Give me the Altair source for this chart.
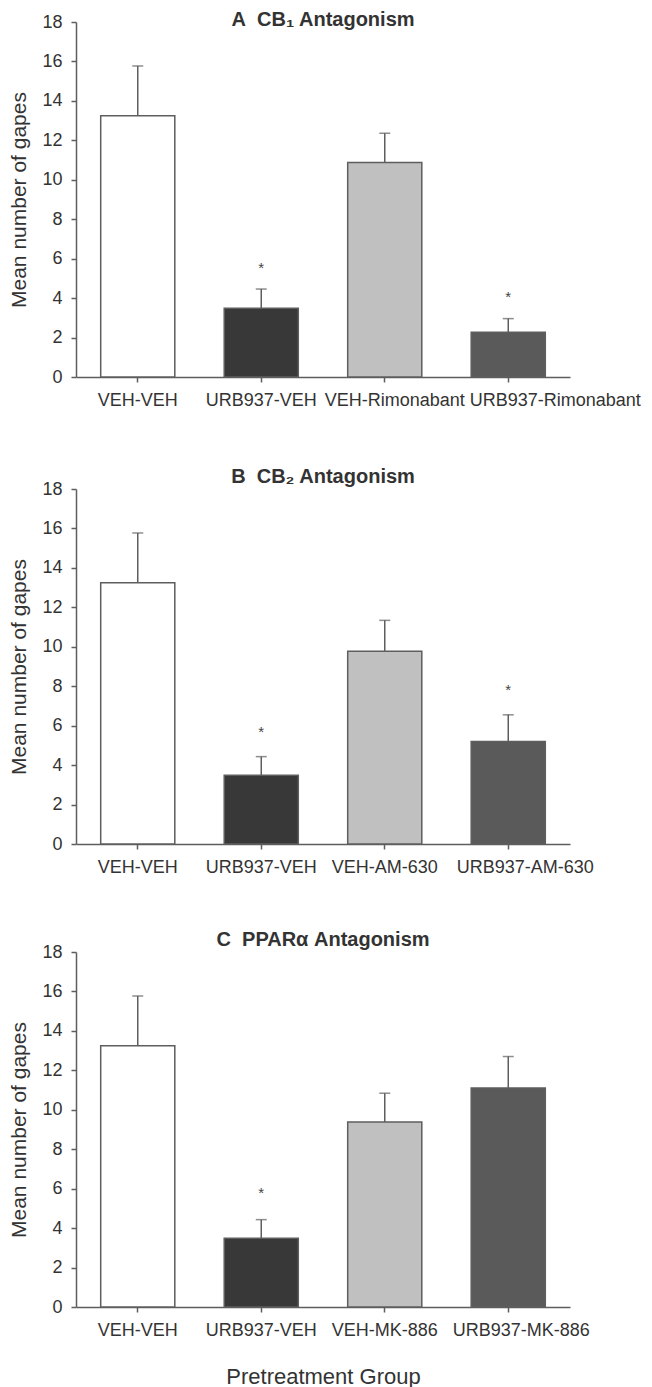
import altair as alt
import pandas as pd

# ---------------- data ----------------
groups_a = ["VEH-VEH", "URB937-VEH", "VEH-Rimonabant", "URB937-Rimonabant"]
means_a = [13.25, 3.48, 10.87, 2.27]
upper_a = [15.77, 4.46, 12.36, 2.96]
stars_a = [None, 5.66, None, 4.2]

groups_b = ["VEH-VEH", "URB937-VEH", "VEH-AM-630", "URB937-AM-630"]
means_b = [13.25, 3.48, 9.77, 5.2]
upper_b = [15.77, 4.43, 11.34, 6.55]
stars_b = [None, 5.83, None, 7.95]

groups_c = ["VEH-VEH", "URB937-VEH", "VEH-MK-886", "URB937-MK-886"]
means_c = [13.25, 3.48, 9.38, 11.1]
upper_c = [15.77, 4.43, 10.84, 12.7]
stars_c = [None, 5.95, None, None]

titles = ["A\u00a0\u00a0CB\u2081 Antagonism", "B\u00a0\u00a0CB\u2082 Antagonism",
          "C\u00a0\u00a0PPAR\u03b1 Antagonism"]
y_ticks = [0, 2, 4, 6, 8, 10, 12, 14, 16, 18]
y_title = "Mean number of gapes"
x_title = "Pretreatment Group"

# ---------------- styles ----------------
FILLS = ["#ffffff", "#383838", "#c0c0c0", "#5a5a5a"]
STROKE = "#5e5e5e"
TEXT = "#333333"
# horizontal nudges of crowded x labels (px)
label_nudge = [
    {"VEH-Rimonabant": 10, "URB937-Rimonabant": 47},
    {"URB937-AM-630": 17},
    {"URB937-MK-886": 13},
]
title_offsets = [-17, -7, -7]

W, H = 494, 355


def panel(groups, means, upper, stars, title, nudge, toff, show_xtitle):
    df = pd.DataFrame({"group": groups, "mean": means, "upper": upper})
    sdf = pd.DataFrame({"group": [g for g, s in zip(groups, stars) if s is not None],
                        "star": [s for s in stars if s is not None]})

    conds = [{"test": f"datum.value == '{k}'", "value": v} for k, v in nudge.items()]
    label_offset = {"condition": conds, "value": 0}

    x_axis = alt.Axis(
        title=x_title if show_xtitle else None,
        labelAngle=0, labelOverlap=False, labelFontSize=18, labelPadding=9,
        tickSize=5, labelOffset=label_offset, titleFontSize=22,
        titleFontWeight="normal", titlePadding=27,
    )
    xscale = alt.Scale(domain=groups, paddingInner=0.4, paddingOuter=0.2)
    y_axis = alt.Axis(values=y_ticks, title=y_title, titleFontSize=21,
                      titleFontWeight="normal", labelFontSize=18, tickSize=5,
                      labelPadding=9, titlePadding=12, grid=False,
                      labelOverlap=False)
    yscale = alt.Scale(domain=[0, 18], nice=False)

    def X():
        return alt.X("group:N", sort=groups, scale=xscale, axis=x_axis)

    def Y(field):
        return alt.Y(field, scale=yscale, axis=y_axis, title=y_title)

    bars = alt.Chart(df).mark_bar(stroke=STROKE, strokeWidth=1.5).encode(
        x=X(),
        y=Y("mean:Q"),
        color=alt.Color("group:N", scale=alt.Scale(domain=groups, range=FILLS), legend=None),
    )
    err = alt.Chart(df).mark_rule(color=STROKE, strokeWidth=1.5).encode(
        x=X(),
        y=Y("mean:Q"),
        y2=alt.Y2("upper:Q"),
    )
    cap = alt.Chart(df).mark_tick(color=STROKE, thickness=1.5, size=11).encode(
        x=X(),
        y=Y("upper:Q"),
    )
    star = alt.Chart(sdf).mark_text(text="*", fontSize=15, color="#444444",
                                    baseline="middle", dy=3).encode(
        x=X(),
        y=Y("star:Q"),
    )
    return alt.layer(bars, err, cap, star).properties(
        width=W, height=H,
        title=alt.TitleParams(title, fontSize=20, fontWeight="bold", color=TEXT,
                              anchor="middle", offset=toff),
    ).resolve_scale(color="independent")


pa = panel(groups_a, means_a, upper_a, stars_a, titles[0], label_nudge[0], title_offsets[0], False)
pb = panel(groups_b, means_b, upper_b, stars_b, titles[1], label_nudge[1], title_offsets[1], False)
pc = panel(groups_c, means_c, upper_c, stars_c, titles[2], label_nudge[2], title_offsets[2], True)

top = alt.vconcat(pa, pb, spacing=58).resolve_scale(color="independent", x="independent")
chart = alt.vconcat(top, pc, spacing=54).resolve_scale(
    color="independent", x="independent"
).properties(
    padding={"left": 0, "top": 2, "right": 0, "bottom": 0}
).configure(
    font="Liberation Sans",
).configure_view(
    stroke=None,
).configure_axis(
    domainColor=STROKE, domainWidth=1.5, tickColor=STROKE, tickWidth=1.5,
    labelColor=TEXT, titleColor=TEXT, labelFont="Liberation Sans",
    titleFont="Liberation Sans",
).configure_title(
    font="Liberation Sans",
)

chart.save("out.html", embed_options={"renderer": "svg", "actions": False})
